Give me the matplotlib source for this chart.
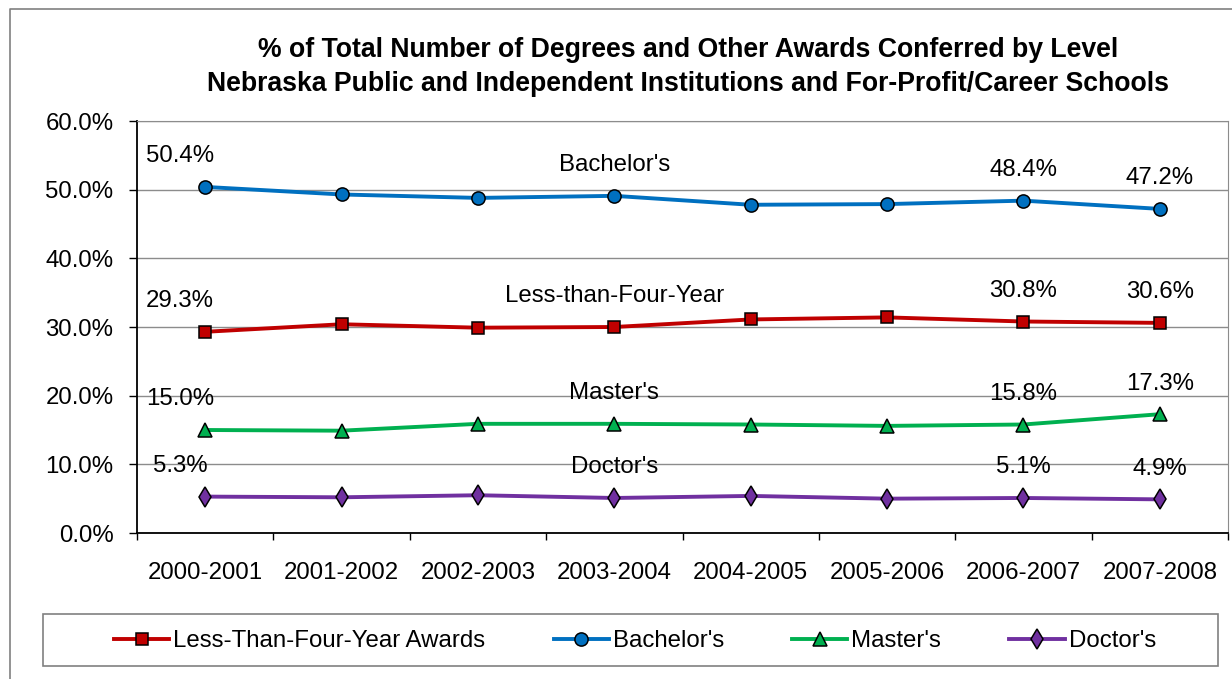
import matplotlib
matplotlib.use("Agg")
from matplotlib import pyplot as plt
from matplotlib.lines import Line2D
from matplotlib.patches import Rectangle
import numpy as np

plt.rcParams['font.family'] = ['Liberation Sans', 'DejaVu Sans']

# %% data
years = ["2000-2001", "2001-2002", "2002-2003", "2003-2004",
         "2004-2005", "2005-2006", "2006-2007", "2007-2008"]
less_than_four = [29.3, 30.4, 29.9, 30.0, 31.1, 31.4, 30.8, 30.6]
bachelors = [50.4, 49.3, 48.8, 49.1, 47.8, 47.9, 48.4, 47.2]
masters = [15.0, 14.9, 15.9, 15.9, 15.8, 15.6, 15.8, 17.3]
doctors = [5.3, 5.2, 5.5, 5.1, 5.4, 5.0, 5.1, 4.9]
y_ticks = [0, 10, 20, 30, 40, 50, 60]

series = [
    ("Less-Than-Four-Year Awards", "Less-than-Four-Year", less_than_four, "#C00000", "s", 8),
    ("Bachelor's", "Bachelor's", bachelors, "#0070C0", "o", 9.5),
    ("Master's", "Master's", masters, "#00B050", "^", 9.5),
    ("Doctor's", "Doctor's", doctors, "#7030A0", "d", 10),
]
labelled_points = [0, 6, 7]
name_point = 3

# %% plot
W, H = 1232, 679
FS = 17.3
fig = plt.figure(figsize=(W / 100, H / 100), dpi=100)
ax = fig.add_axes([137 / W, 1 - 533 / H, (1228 - 137) / W, (533 - 121) / H])

x = np.arange(len(years))
handles = []
for legend_name, short_name, vals, color, marker, ms in series:
    h, = ax.plot(x, vals, color=color, lw=2.8, marker=marker, markersize=ms,
                 markerfacecolor=color, markeredgecolor="black", markeredgewidth=1.1,
                 label=legend_name, zorder=3)
    handles.append(h)
    for i in labelled_points:
        dx = -18 if i == 0 else 0
        ax.annotate(f"{vals[i]:.1f}%", (x[i], vals[i]), xytext=(dx, 22),
                    textcoords="offset points", ha="center", va="center", fontsize=FS)
    ax.annotate(short_name, (x[name_point], vals[name_point]), xytext=(0, 22),
                textcoords="offset points", ha="center", va="center", fontsize=FS)

ax.set_xlim(-0.5, len(years) - 0.5)
ax.set_ylim(0, 60)
ax.set_yticks(y_ticks)
ax.set_yticklabels([f"{v:.1f}%" for v in y_ticks])
ax.set_xticks(x)
ax.set_xticklabels(years)
ax.set_xticks(np.arange(len(years) + 1) - 0.5, minor=True)
ax.tick_params(axis="y", length=6, width=1, pad=11, labelsize=FS)
ax.tick_params(axis="x", which="major", length=0, pad=21, labelsize=FS)
ax.tick_params(axis="x", which="minor", length=5, width=1)
ax.yaxis.grid(True, color="#8c8c8c", lw=1)
ax.set_axisbelow(True)
for side in ["top", "right"]:
    ax.spines[side].set_color("#8c8c8c")
for side in ["left", "bottom"]:
    ax.spines[side].set_color("black")
    ax.spines[side].set_linewidth(1.3)

fig.text(688 / W, 1 - 50 / H, "% of Total Number of Degrees and Other Awards Conferred by Level",
         ha="center", va="center", fontsize=19.2, fontweight="bold")
fig.text(688 / W, 1 - 84 / H, "Nebraska Public and Independent Institutions and For-Profit/Career Schools",
         ha="center", va="center", fontsize=19.2, fontweight="bold")

# outer chart frame (left and top visible)
fig.add_artist(Line2D([10 / W, 10 / W, 1.0], [0.0, 1 - 9 / H, 1 - 9 / H],
                      transform=fig.transFigure, color="#808080", lw=1.2))

# legend box
fig.add_artist(Rectangle((43 / W, 1 - 666 / H), (1218 - 43) / W, 52 / H,
                         transform=fig.transFigure, fill=False, edgecolor="#808080", lw=1.2))
fig.legend(handles=handles, loc="center", bbox_to_anchor=(635 / W, 1 - 641 / H), ncol=4,
           frameon=False, fontsize=FS, handlelength=2.3, handletextpad=0.17, columnspacing=2.83)

fig.savefig("out.png", dpi=100)
